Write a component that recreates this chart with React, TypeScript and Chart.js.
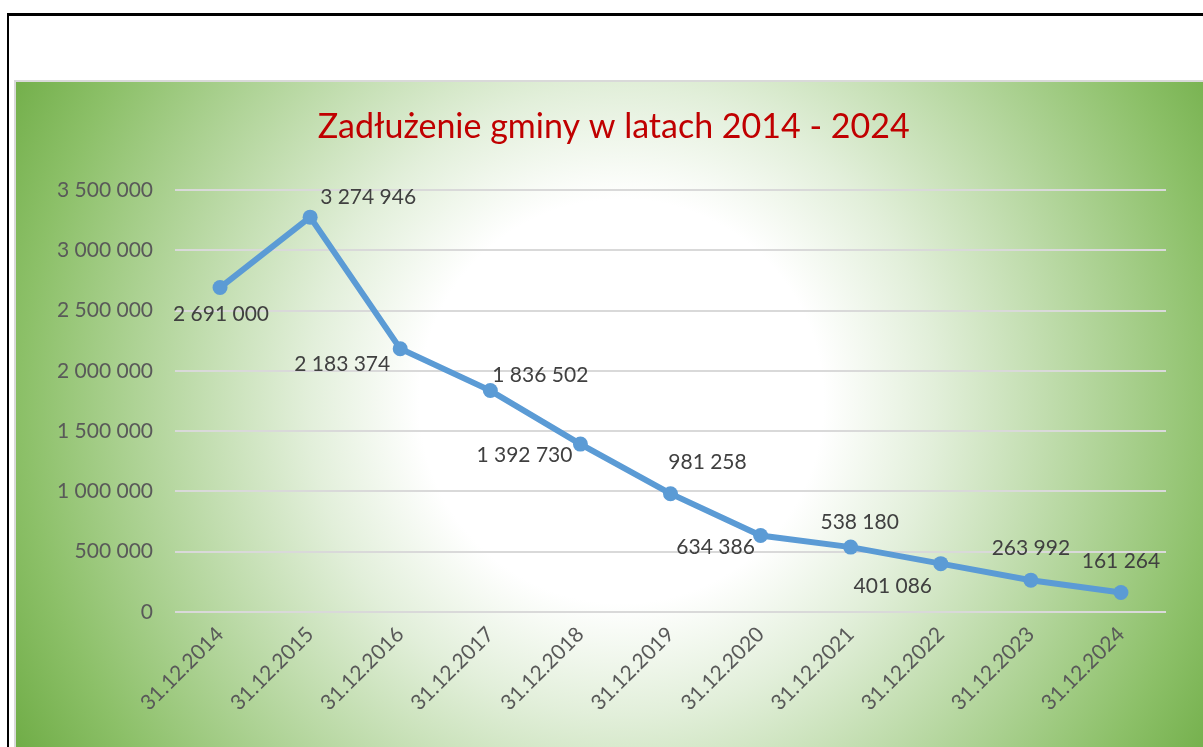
import React, { useEffect, useRef } from "react";
import { Chart, registerables } from "chart.js";

Chart.register(...registerables);

const categories = [
  "31.12.2014",
  "31.12.2015",
  "31.12.2016",
  "31.12.2017",
  "31.12.2018",
  "31.12.2019",
  "31.12.2020",
  "31.12.2021",
  "31.12.2022",
  "31.12.2023",
  "31.12.2024",
];

const debtValues = [
  2691000, 3274946, 2183374, 1836502, 1392730, 981258, 634386, 538180, 401086,
  263992, 161264,
];

const yTickMin = 0;
const yTickMax = 3500000;
const yTickStep = 500000;

const chartTitle = "Zadłużenie gminy w latach 2014 - 2024";

// Label placement (offset of label centre from point), styling only
const labelOffsets: [number, number][] = [
  [1, 27],
  [58, -20],
  [-58, 15],
  [50, -15],
  [-56, 11],
  [37, -31],
  [-45, 12],
  [9, -25],
  [-48, 23],
  [0, -32],
  [0, -31],
];

const fmt = (v: number) =>
  Math.round(v)
    .toString()
    .replace(/\B(?=(\d{3})+(?!\d))/g, " ");

const FONT = "Lato, 'Open Sans', sans-serif";

const titlePlugin = {
  id: "customTitle",
  afterDraw(chart: any) {
    const ctx = chart.ctx;
    ctx.save();
    ctx.font = `34px ${FONT}`;
    ctx.fillStyle = "#C00000";
    ctx.textAlign = "center";
    ctx.textBaseline = "middle";
    ctx.fillText(chartTitle, chart.width * 0.5035, 45);
    ctx.restore();
  },
};

const dataLabelPlugin = {
  id: "dataLabelPlugin",
  afterDatasetsDraw(chart: any) {
    const ctx = chart.ctx;
    const meta = chart.getDatasetMeta(0);
    ctx.save();
    ctx.font = `21px ${FONT}`;
    ctx.fillStyle = "#404040";
    ctx.textAlign = "center";
    ctx.textBaseline = "middle";
    meta.data.forEach((pt: any, i: number) => {
      const off = labelOffsets[i] || [0, -25];
      ctx.fillText(fmt(debtValues[i]), pt.x + off[0], pt.y + off[1]);
    });
    ctx.restore();
  },
};

export default function App() {
  const canvasRef = useRef<HTMLCanvasElement | null>(null);

  useEffect(() => {
    if (!canvasRef.current) return;
    const chart = new Chart(canvasRef.current, {
      type: "line",
      data: {
        labels: categories,
        datasets: [
          {
            data: debtValues,
            borderColor: "#5B9BD5",
            backgroundColor: "#5B9BD5",
            borderWidth: 6,
            pointRadius: 7.5,
            pointHoverRadius: 7.5,
            pointBackgroundColor: "#5B9BD5",
            pointBorderWidth: 0,
            tension: 0,
            fill: false,
          },
        ],
      },
      options: {
        responsive: false,
        animation: false,
        events: [],
        layout: { padding: { top: 108, right: 37, bottom: 0, left: 0 } },
        plugins: {
          legend: { display: false },
          tooltip: { enabled: false },
          title: { display: false },
        },
        scales: {
          x: {
            offset: true,
            grid: { display: false, drawTicks: false },
            border: { display: false },
            ticks: {
              color: "#595959",
              font: { family: FONT, size: 21 },
              minRotation: 45,
              maxRotation: 45,
              autoSkip: false,
              padding: 10,
            },
            afterFit: (s: any) => {
              s.height = 135;
            },
          },
          y: {
            min: yTickMin,
            max: yTickMax,
            grid: { color: "#D9D9D9", lineWidth: 2, drawTicks: false },
            border: { display: false },
            ticks: {
              stepSize: yTickStep,
              color: "#595959",
              font: { family: FONT, size: 21 },
              padding: 22,
              callback: (v: any) => fmt(Number(v)),
            },
            afterFit: (s: any) => {
              s.width = 159;
            },
          },
        },
      },
      plugins: [dataLabelPlugin, titlePlugin],
    });
    return () => chart.destroy();
  }, []);

  return (
    <div
      style={{
        position: "absolute",
        left: 0,
        top: 0,
        width: 1203,
        height: 747,
        overflow: "hidden",
        background: "#ffffff",
      }}
    >
      <div
        style={{
          position: "absolute",
          left: 7,
          top: 13,
          width: 1400,
          height: 1000,
          borderTop: "3px solid #000",
          borderLeft: "2px solid #000",
          boxSizing: "border-box",
        }}
      />
      <div
        style={{
          position: "absolute",
          left: 14,
          top: 80,
          width: 1189,
          height: 667,
          borderTop: "2px solid #D9D9D9",
          borderLeft: "2px solid #D9D9D9",
          boxSizing: "border-box",
        }}
      />
      <div
        style={{
          position: "absolute",
          left: 16,
          top: 82,
          width: 1187,
          height: 665,
          background:
            "radial-gradient(circle farthest-corner at 51% 48%, #ffffff 0%, #ffffff 29%, #E2EFDA 45%, #8CC068 86%, #70AD47 100%)",
        }}
      >
        <canvas
          ref={canvasRef}
          width={1187}
          height={665}
          style={{ display: "block", width: 1187, height: 665 }}
        />
      </div>
    </div>
  );
}
